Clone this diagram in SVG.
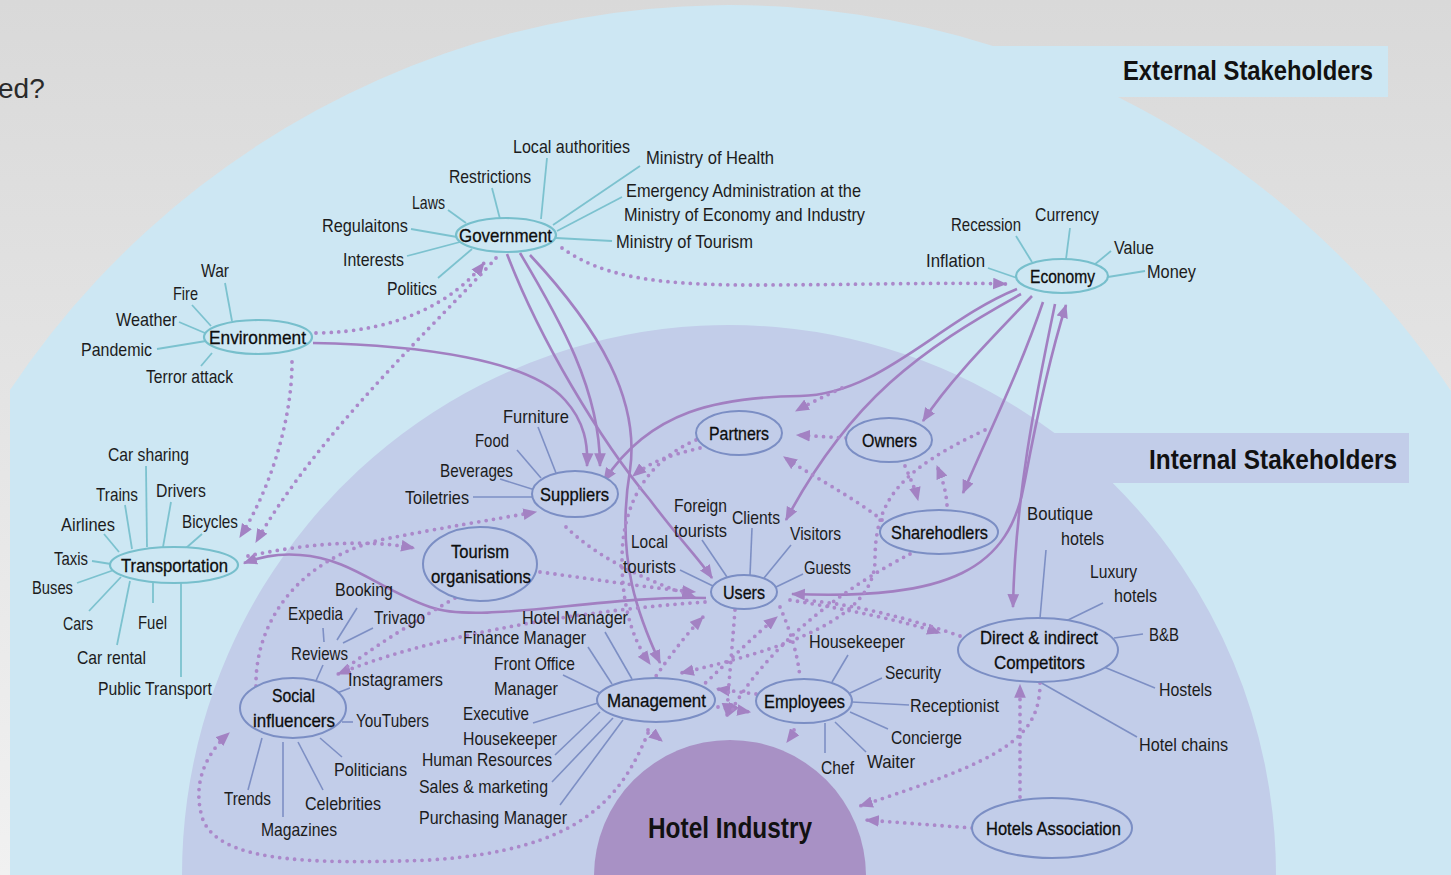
<svg xmlns="http://www.w3.org/2000/svg" width="1451" height="875" viewBox="0 0 1451 875">
<defs>
<linearGradient id="bg" x1="0" y1="0" x2="0" y2="1"><stop offset="0" stop-color="#d9d9d9"/><stop offset="1" stop-color="#f1f1f1"/></linearGradient>
<marker id="ah" viewBox="0 0 12 10" refX="11" refY="5" markerWidth="14" markerHeight="12" markerUnits="userSpaceOnUse" orient="auto-start-reverse"><path d="M0,0 L12,5 L0,10 z" fill="#a382c3"/></marker>
<style>
.t{font-family:"Liberation Sans",Arial,sans-serif;font-size:19px;fill:#1c1c1c}
.n{font-family:"Liberation Sans",Arial,sans-serif;font-size:19px;fill:#0d0d0d;stroke:#0d0d0d;stroke-width:0.3}
.h{font-family:"Liberation Sans",Arial,sans-serif;font-size:30px;font-weight:bold;fill:#111}
.h2{font-family:"Liberation Sans",Arial,sans-serif;font-size:28px;font-weight:bold;fill:#111}
.le line{stroke:#7cc2cf;stroke-width:1.8}
.li line{stroke:#7d8fc4;stroke-width:1.6}
.ne{fill:#cde7f3;stroke:#77bfcc;stroke-width:2.2}
.ni{fill:#c2cde9;stroke:#7b8ec4;stroke-width:2}
.s{fill:none;stroke:#a27fc1;stroke-width:2.6;marker-end:url(#ah)}
.d{fill:none;stroke:#ab88ca;stroke-width:3.8;stroke-linecap:round;stroke-dasharray:0 7.5}
.da{fill:none;stroke:#ab88ca;stroke-width:3.8;stroke-linecap:round;stroke-dasharray:0 7.5;marker-end:url(#ah)}
</style>
</defs>
<rect width="1451" height="875" fill="url(#bg)"/>
<text x="-2" y="98" font-family="Liberation Sans,Arial,sans-serif" font-size="28" fill="#2a2a2a">ed?</text>
<path id="external-region" d="M10,875 L10,390 A866,866 0 0 1 993,46 L1388,46 L1388,97 L1118,97 A866,866 0 0 1 1451,391 L1451,875 Z" fill="#cde7f3"/>
<path id="internal-region" d="M182,875 A547,550 0 0 1 1054.5,433 L1409,433 L1409,483 L1112.7,483 A547,550 0 0 1 1276,875 Z" fill="#c2cde9"/>
<path d="M594,876 A136,136 0 0 1 866,876 Z" fill="#a891c5"/>

<g id="leaders-external" class="le">
<line x1="547" y1="158" x2="541" y2="219"/>
<line x1="640" y1="166" x2="553" y2="225"/>
<line x1="622" y1="197" x2="557" y2="231"/>
<line x1="612" y1="241" x2="556" y2="238"/>
<line x1="492" y1="188" x2="500" y2="219"/>
<line x1="448" y1="210" x2="466" y2="223"/>
<line x1="411" y1="229" x2="457" y2="237"/>
<line x1="407" y1="256" x2="460" y2="242"/>
<line x1="438" y1="278" x2="472" y2="249"/>
<line x1="1016" y1="236" x2="1032" y2="262"/>
<line x1="1070" y1="228" x2="1066" y2="259"/>
<line x1="1111" y1="251" x2="1094" y2="265"/>
<line x1="988" y1="268" x2="1017" y2="278"/>
<line x1="1145" y1="271" x2="1108" y2="277"/>
<line x1="225" y1="283" x2="232" y2="321"/>
<line x1="192" y1="305" x2="211" y2="326"/>
<line x1="179" y1="322" x2="205" y2="333"/>
<line x1="157" y1="349" x2="206" y2="341"/>
<line x1="201" y1="366" x2="212" y2="353"/>
<line x1="146" y1="466" x2="147" y2="547"/>
<line x1="125" y1="505" x2="132" y2="549"/>
<line x1="171" y1="502" x2="163" y2="547"/>
<line x1="104" y1="534" x2="119" y2="552"/>
<line x1="202" y1="534" x2="186" y2="548"/>
<line x1="92" y1="561" x2="111" y2="564"/>
<line x1="77" y1="583" x2="114" y2="570"/>
<line x1="89" y1="611" x2="121" y2="577"/>
<line x1="153" y1="603" x2="153" y2="583"/>
<line x1="117" y1="645" x2="130" y2="581"/>
<line x1="181" y1="677" x2="181" y2="583"/>
</g>
<g id="leaders-internal" class="li">
<line x1="538" y1="427" x2="556" y2="473"/>
<line x1="517" y1="450" x2="541" y2="478"/>
<line x1="500" y1="479" x2="535" y2="490"/>
<line x1="473" y1="497" x2="532" y2="497"/>
<line x1="702" y1="540" x2="727" y2="577"/>
<line x1="752" y1="528" x2="750" y2="575"/>
<line x1="791" y1="545" x2="764" y2="578"/>
<line x1="680" y1="570" x2="713" y2="586"/>
<line x1="803" y1="574" x2="776" y2="587"/>
<line x1="605" y1="632" x2="632" y2="679"/>
<line x1="588" y1="647" x2="612" y2="684"/>
<line x1="563" y1="675" x2="600" y2="693"/>
<line x1="533" y1="723" x2="598" y2="703"/>
<line x1="555" y1="755" x2="600" y2="712"/>
<line x1="552" y1="782" x2="613" y2="718"/>
<line x1="560" y1="805" x2="623" y2="720"/>
<line x1="848" y1="655" x2="832" y2="682"/>
<line x1="882" y1="678" x2="850" y2="693"/>
<line x1="909" y1="705" x2="852" y2="702"/>
<line x1="888" y1="729" x2="850" y2="712"/>
<line x1="866" y1="752" x2="835" y2="722"/>
<line x1="825" y1="753" x2="825" y2="723"/>
<line x1="357" y1="608" x2="337" y2="640"/>
<line x1="323" y1="628" x2="324" y2="642"/>
<line x1="373" y1="628" x2="343" y2="643"/>
<line x1="323" y1="665" x2="315" y2="683"/>
<line x1="350" y1="688" x2="337" y2="693"/>
<line x1="353" y1="722" x2="342" y2="722"/>
<line x1="342" y1="757" x2="320" y2="738"/>
<line x1="323" y1="790" x2="298" y2="742"/>
<line x1="283" y1="817" x2="283" y2="742"/>
<line x1="248" y1="790" x2="262" y2="738"/>
<line x1="1046" y1="550" x2="1040" y2="618"/>
<line x1="1103" y1="603" x2="1066" y2="621"/>
<line x1="1143" y1="634" x2="1114" y2="638"/>
<line x1="1155" y1="688" x2="1104" y2="667"/>
<line x1="1137" y1="737" x2="1038" y2="681"/>
</g>

<g id="connectors">
<path class="s" d="M313,343 C420,345 530,360 565,400 C585,422 588,445 587,466"/>
<path class="s" d="M520,253 C560,320 600,390 600,466"/>
<path class="s" d="M507,254 C540,340 600,440 650,500 C680,540 700,560 712,578"/>
<path class="s" d="M530,255 C600,330 640,400 630,470 C615,560 640,620 660,663"/>
<path class="s" d="M1017,289 C940,320 880,395 800,396 C720,397 650,410 604,481"/>
<path class="s" d="M1021,294 C920,350 850,400 786,520"/>
<path class="s" d="M1032,296 C990,340 950,380 923,421"/>
<path class="s" d="M1043,302 C1020,370 990,430 963,493"/>
<path class="s" d="M1055,304 C1035,400 1015,500 1013,607"/>
<path class="s" style="marker-start:url(#ah)" d="M792,594 C950,600 1010,570 1025,480 C1040,400 1055,340 1066,305"/>
<path class="s" d="M706,598 C600,595 480,625 430,607 C380,590 350,558 300,555 C275,553 258,558 244,563"/>

<path class="da" d="M562,248 C600,275 650,285 750,285 C850,285 950,282 1006,284"/>
<path class="da" d="M316,333 C400,332 455,300 484,263"/>
<path class="da" d="M496,258 C440,320 320,430 256,542"/>
<path class="da" d="M292,362 C292,420 270,490 240,537"/>
<path class="da" d="M248,556 C300,545 360,538 414,548"/>
<path class="da" d="M256,686 C255,620 300,560 380,540 C440,528 490,520 536,512"/>
<path class="da" d="M540,572 C600,580 650,588 695,592"/>
<path class="da" d="M566,527 C600,560 650,582 695,597"/>
<path class="da" d="M696,440 C650,460 622,500 622,560 C622,620 640,650 650,664"/>
<path class="da" d="M700,448 C670,455 650,462 633,476"/>
<path class="da" d="M846,438 L797,435"/>
<path class="da" d="M842,388 C825,396 810,403 796,411"/>
<path class="da" d="M882,520 C850,495 810,475 784,457"/>
<path class="da" d="M905,466 C910,478 915,488 918,500"/>
<path class="da" d="M947,505 C946,490 942,478 937,466"/>
<path class="da" d="M985,430 C900,470 875,500 875,560 C875,620 780,650 681,673"/>
<path class="da" d="M910,554 C850,585 770,640 728,716"/>
<path class="da" d="M652,682 C670,655 690,630 703,617"/>
<path class="da" d="M700,688 C730,660 755,635 777,617"/>
<path class="da" d="M790,600 C850,610 900,620 940,633"/>
<path class="d" d="M960,636 C900,615 840,602 800,600"/>
<path class="da" d="M718,707 L750,712"/>
<path class="da" d="M756,694 L717,689"/>
<path class="da" d="M735,610 C732,650 728,690 727,716"/>
<path class="d" d="M780,607 C790,630 798,655 800,678"/>
<path class="da" d="M648,730 C653,734 657,737 662,741"/>
<path class="da" d="M794,730 C792,734 790,738 787,742"/>
<path class="da" d="M1040,683 C1040,740 1000,760 860,806"/>
<path class="da" d="M972,828 L866,820"/>
<path class="da" d="M1020,797 L1020,685"/>
<path class="da" d="M648,733 C620,800 580,850 430,860 C300,865 220,860 203,820 C190,780 210,750 229,733"/>
<path class="da" d="M705,602 C560,612 420,640 338,674"/>
<path class="d" d="M455,598 C400,630 370,650 346,668"/>
</g>

<g id="government"><ellipse class="ne" cx="506" cy="235" rx="50" ry="17"/><text class="n" x="459" y="242" textLength="93" lengthAdjust="spacingAndGlyphs">Government</text></g>
<g id="economy"><ellipse class="ne" cx="1062" cy="276" rx="46" ry="17"/><text class="n" x="1030" y="283" textLength="65" lengthAdjust="spacingAndGlyphs">Economy</text></g>
<g id="environment"><ellipse class="ne" cx="258" cy="337" rx="54" ry="17"/><text class="n" x="209" y="344" textLength="97" lengthAdjust="spacingAndGlyphs">Environment</text></g>
<g id="transportation"><ellipse class="ne" cx="174" cy="565" rx="64" ry="18"/><text class="n" x="121" y="572" textLength="107" lengthAdjust="spacingAndGlyphs">Transportation</text></g>
<g id="suppliers"><ellipse class="ni" cx="575" cy="494" rx="43" ry="23"/><text class="n" x="540" y="501" textLength="69" lengthAdjust="spacingAndGlyphs">Suppliers</text></g>
<g id="partners"><ellipse class="ni" cx="739" cy="433" rx="43" ry="22"/><text class="n" x="709" y="440" textLength="60" lengthAdjust="spacingAndGlyphs">Partners</text></g>
<g id="owners"><ellipse class="ni" cx="889" cy="440" rx="43" ry="22"/><text class="n" x="862" y="447" textLength="55" lengthAdjust="spacingAndGlyphs">Owners</text></g>
<g id="sharehodlers"><ellipse class="ni" cx="939" cy="532" rx="59" ry="22"/><text class="n" x="891" y="539" textLength="97" lengthAdjust="spacingAndGlyphs">Sharehodlers</text></g>
<g id="tourism"><ellipse class="ni" cx="480" cy="564" rx="57" ry="37"/><text class="n" x="451" y="558" textLength="58" lengthAdjust="spacingAndGlyphs">Tourism</text><text class="n" x="431" y="583" textLength="100" lengthAdjust="spacingAndGlyphs">organisations</text></g>
<g id="users"><ellipse class="ni" cx="744" cy="592" rx="33" ry="17"/><text class="n" x="723" y="599" textLength="42" lengthAdjust="spacingAndGlyphs">Users</text></g>
<g id="management"><ellipse class="ni" cx="656" cy="700" rx="59" ry="22"/><text class="n" x="607" y="707" textLength="99" lengthAdjust="spacingAndGlyphs">Management</text></g>
<g id="employees"><ellipse class="ni" cx="804" cy="701" rx="48" ry="22"/><text class="n" x="764" y="708" textLength="81" lengthAdjust="spacingAndGlyphs">Employees</text></g>
<g id="social"><ellipse class="ni" cx="293" cy="708" rx="53" ry="30"/><text class="n" x="272" y="702" textLength="43" lengthAdjust="spacingAndGlyphs">Social</text><text class="n" x="253" y="727" textLength="82" lengthAdjust="spacingAndGlyphs">influencers</text></g>
<g id="competitors"><ellipse class="ni" cx="1038" cy="650" rx="80" ry="32"/><text class="n" x="980" y="644" textLength="118" lengthAdjust="spacingAndGlyphs">Direct &amp; indirect</text><text class="n" x="994" y="669" textLength="91" lengthAdjust="spacingAndGlyphs">Competitors</text></g>
<g id="hotels-association"><ellipse class="ni" cx="1052" cy="828" rx="80" ry="30"/><text class="n" x="986" y="835" textLength="135" lengthAdjust="spacingAndGlyphs">Hotels Association</text></g>
<g id="hotel-industry"><text class="h" x="648" y="838" textLength="164" lengthAdjust="spacingAndGlyphs">Hotel Industry</text></g>
<g id="titles">
<text class="h2" x="1373" y="80" text-anchor="end" textLength="250" lengthAdjust="spacingAndGlyphs">External Stakeholders</text>
<text class="h2" x="1397" y="469" text-anchor="end" textLength="248" lengthAdjust="spacingAndGlyphs">Internal Stakeholders</text>
</g>

<g id="labels">
<text class="t" x="513" y="153" textLength="117" lengthAdjust="spacingAndGlyphs">Local authorities</text>
<text class="t" x="646" y="164" textLength="128" lengthAdjust="spacingAndGlyphs">Ministry of Health</text>
<text class="t" x="626" y="197" textLength="235" lengthAdjust="spacingAndGlyphs">Emergency Administration at the</text>
<text class="t" x="624" y="221" textLength="241" lengthAdjust="spacingAndGlyphs">Ministry of Economy and Industry</text>
<text class="t" x="616" y="248" textLength="137" lengthAdjust="spacingAndGlyphs">Ministry of Tourism</text>
<text class="t" x="449" y="183" textLength="82" lengthAdjust="spacingAndGlyphs">Restrictions</text>
<text class="t" x="412" y="209" textLength="33" lengthAdjust="spacingAndGlyphs">Laws</text>
<text class="t" x="322" y="232" textLength="86" lengthAdjust="spacingAndGlyphs">Regulaitons</text>
<text class="t" x="343" y="266" textLength="61" lengthAdjust="spacingAndGlyphs">Interests</text>
<text class="t" x="387" y="295" textLength="50" lengthAdjust="spacingAndGlyphs">Politics</text>
<text class="t" x="951" y="231" textLength="70" lengthAdjust="spacingAndGlyphs">Recession</text>
<text class="t" x="1035" y="221" textLength="64" lengthAdjust="spacingAndGlyphs">Currency</text>
<text class="t" x="1114" y="254" textLength="40" lengthAdjust="spacingAndGlyphs">Value</text>
<text class="t" x="926" y="267" textLength="59" lengthAdjust="spacingAndGlyphs">Inflation</text>
<text class="t" x="1147" y="278" textLength="49" lengthAdjust="spacingAndGlyphs">Money</text>
<text class="t" x="201" y="277" textLength="28" lengthAdjust="spacingAndGlyphs">War</text>
<text class="t" x="173" y="300" textLength="25" lengthAdjust="spacingAndGlyphs">Fire</text>
<text class="t" x="116" y="326" textLength="61" lengthAdjust="spacingAndGlyphs">Weather</text>
<text class="t" x="81" y="356" textLength="71" lengthAdjust="spacingAndGlyphs">Pandemic</text>
<text class="t" x="146" y="383" textLength="87" lengthAdjust="spacingAndGlyphs">Terror attack</text>
<text class="t" x="108" y="461" textLength="81" lengthAdjust="spacingAndGlyphs">Car sharing</text>
<text class="t" x="96" y="501" textLength="42" lengthAdjust="spacingAndGlyphs">Trains</text>
<text class="t" x="156" y="497" textLength="50" lengthAdjust="spacingAndGlyphs">Drivers</text>
<text class="t" x="61" y="531" textLength="54" lengthAdjust="spacingAndGlyphs">Airlines</text>
<text class="t" x="182" y="528" textLength="56" lengthAdjust="spacingAndGlyphs">Bicycles</text>
<text class="t" x="54" y="565" textLength="34" lengthAdjust="spacingAndGlyphs">Taxis</text>
<text class="t" x="32" y="594" textLength="41" lengthAdjust="spacingAndGlyphs">Buses</text>
<text class="t" x="63" y="630" textLength="30" lengthAdjust="spacingAndGlyphs">Cars</text>
<text class="t" x="138" y="629" textLength="29" lengthAdjust="spacingAndGlyphs">Fuel</text>
<text class="t" x="77" y="664" textLength="69" lengthAdjust="spacingAndGlyphs">Car rental</text>
<text class="t" x="98" y="695" textLength="114" lengthAdjust="spacingAndGlyphs">Public Transport</text>
<text class="t" x="503" y="423" textLength="66" lengthAdjust="spacingAndGlyphs">Furniture</text>
<text class="t" x="475" y="447" textLength="34" lengthAdjust="spacingAndGlyphs">Food</text>
<text class="t" x="440" y="477" textLength="73" lengthAdjust="spacingAndGlyphs">Beverages</text>
<text class="t" x="405" y="504" textLength="64" lengthAdjust="spacingAndGlyphs">Toiletries</text>
<text class="t" x="674" y="512" textLength="53" lengthAdjust="spacingAndGlyphs">Foreign</text>
<text class="t" x="674" y="537" textLength="53" lengthAdjust="spacingAndGlyphs">tourists</text>
<text class="t" x="732" y="524" textLength="48" lengthAdjust="spacingAndGlyphs">Clients</text>
<text class="t" x="790" y="540" textLength="51" lengthAdjust="spacingAndGlyphs">Visitors</text>
<text class="t" x="631" y="548" textLength="37" lengthAdjust="spacingAndGlyphs">Local</text>
<text class="t" x="623" y="573" textLength="53" lengthAdjust="spacingAndGlyphs">tourists</text>
<text class="t" x="804" y="574" textLength="47" lengthAdjust="spacingAndGlyphs">Guests</text>
<text class="t" x="522" y="624" font-size="17.5" textLength="106" lengthAdjust="spacingAndGlyphs">Hotel Manager</text>
<text class="t" x="463" y="644" font-size="17.5" textLength="123" lengthAdjust="spacingAndGlyphs">Finance Manager</text>
<text class="t" x="494" y="670" textLength="81" lengthAdjust="spacingAndGlyphs">Front Office</text>
<text class="t" x="494" y="695" textLength="64" lengthAdjust="spacingAndGlyphs">Manager</text>
<text class="t" x="463" y="720" textLength="66" lengthAdjust="spacingAndGlyphs">Executive</text>
<text class="t" x="463" y="745" textLength="94" lengthAdjust="spacingAndGlyphs">Housekeeper</text>
<text class="t" x="422" y="766" textLength="130" lengthAdjust="spacingAndGlyphs">Human Resources</text>
<text class="t" x="419" y="793" textLength="129" lengthAdjust="spacingAndGlyphs">Sales &amp; marketing</text>
<text class="t" x="419" y="824" textLength="148" lengthAdjust="spacingAndGlyphs">Purchasing Manager</text>
<text class="t" x="809" y="648" textLength="96" lengthAdjust="spacingAndGlyphs">Housekeeper</text>
<text class="t" x="885" y="679" textLength="56" lengthAdjust="spacingAndGlyphs">Security</text>
<text class="t" x="910" y="712" textLength="89" lengthAdjust="spacingAndGlyphs">Receptionist</text>
<text class="t" x="891" y="744" textLength="71" lengthAdjust="spacingAndGlyphs">Concierge</text>
<text class="t" x="867" y="768" textLength="48" lengthAdjust="spacingAndGlyphs">Waiter</text>
<text class="t" x="821" y="774" textLength="33" lengthAdjust="spacingAndGlyphs">Chef</text>
<text class="t" x="335" y="596" textLength="58" lengthAdjust="spacingAndGlyphs">Booking</text>
<text class="t" x="288" y="620" textLength="55" lengthAdjust="spacingAndGlyphs">Expedia</text>
<text class="t" x="374" y="624" textLength="51" lengthAdjust="spacingAndGlyphs">Trivago</text>
<text class="t" x="291" y="660" textLength="57" lengthAdjust="spacingAndGlyphs">Reviews</text>
<text class="t" x="348" y="686" textLength="95" lengthAdjust="spacingAndGlyphs">Instagramers</text>
<text class="t" x="356" y="727" textLength="73" lengthAdjust="spacingAndGlyphs">YouTubers</text>
<text class="t" x="334" y="776" textLength="73" lengthAdjust="spacingAndGlyphs">Politicians</text>
<text class="t" x="305" y="810" textLength="76" lengthAdjust="spacingAndGlyphs">Celebrities</text>
<text class="t" x="261" y="836" textLength="76" lengthAdjust="spacingAndGlyphs">Magazines</text>
<text class="t" x="224" y="805" textLength="47" lengthAdjust="spacingAndGlyphs">Trends</text>
<text class="t" x="1027" y="520" textLength="66" lengthAdjust="spacingAndGlyphs">Boutique</text>
<text class="t" x="1061" y="545" textLength="43" lengthAdjust="spacingAndGlyphs">hotels</text>
<text class="t" x="1090" y="578" textLength="47" lengthAdjust="spacingAndGlyphs">Luxury</text>
<text class="t" x="1114" y="602" textLength="43" lengthAdjust="spacingAndGlyphs">hotels</text>
<text class="t" x="1149" y="641" textLength="30" lengthAdjust="spacingAndGlyphs">B&amp;B</text>
<text class="t" x="1159" y="696" textLength="53" lengthAdjust="spacingAndGlyphs">Hostels</text>
<text class="t" x="1139" y="751" textLength="89" lengthAdjust="spacingAndGlyphs">Hotel chains</text>
</g>
</svg>
